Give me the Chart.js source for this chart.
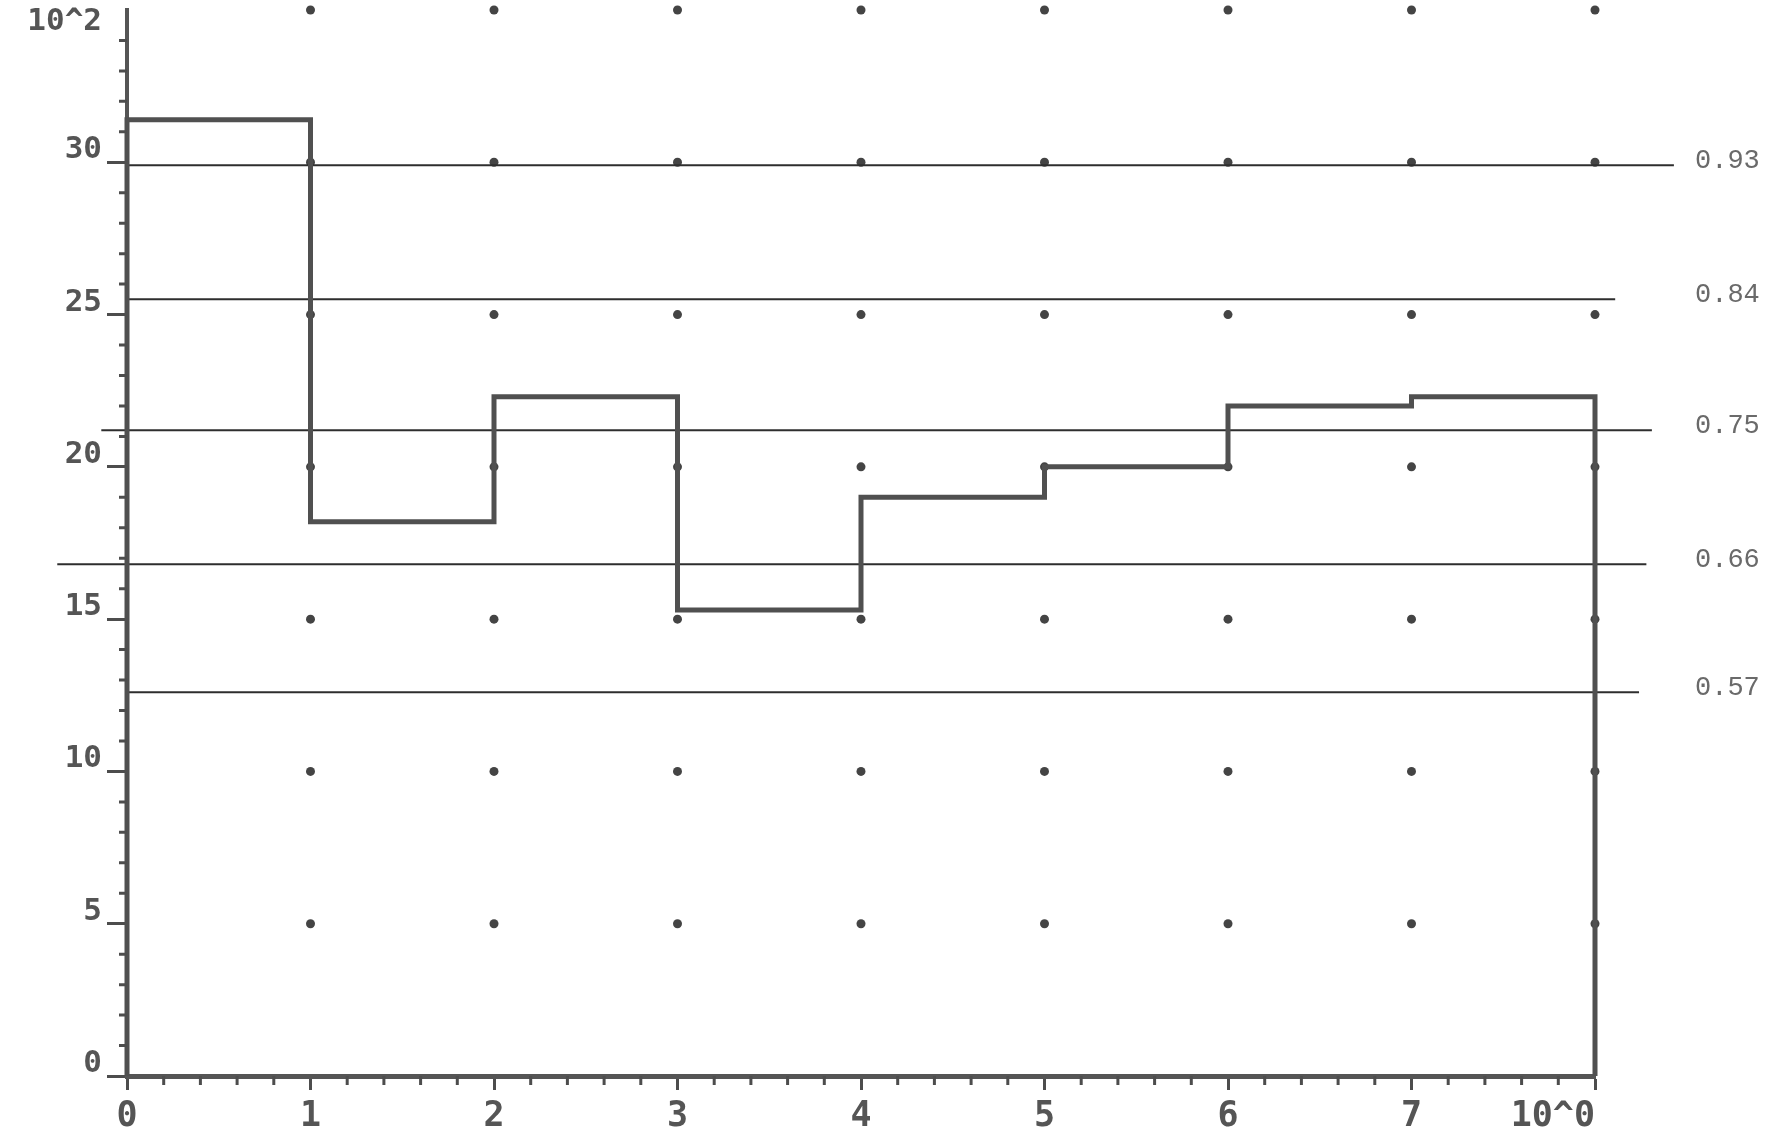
<!DOCTYPE html>
<html>
<head>
<meta charset="utf-8">
<script src="https://cdn.jsdelivr.net/npm/chart.js@4/dist/chart.umd.min.js"></script>
<style>
  html, body { margin: 0; padding: 0; background: #ffffff; }
  #c { display: block; }
</style>
</head>
<body>
<canvas id="c" width="1786" height="1144"></canvas>
<script>
// ---- data ----
const binEdges = [0, 1, 2, 3, 4, 5, 6, 7, 8];
const binValues = [31.4, 18.2, 22.3, 15.3, 19.0, 20.0, 22.0, 22.3];   // x 10^2
const xTickLabels = ['0', '1', '2', '3', '4', '5', '6', '7', '10^0'];
const yTickValues = [0, 5, 10, 15, 20, 25, 30];
const yUnitLabel = '10^2';
const refLevels = [29.9, 25.5, 21.2, 16.8, 12.6];
const refLabels = ['0.93', '0.84', '0.75', '0.66', '0.57'];
const refFrom = [0, 0, -0.14, -0.38, 0];
const refTo = [8.43, 8.11, 8.31, 8.28, 8.24];
const dotXs = [1, 2, 3, 4, 5, 6, 7, 8];
const dotYs = [5, 10, 15, 20, 25, 30, 35];

// ---- build datasets ----
const stepPoints = [{x: binEdges[0], y: 0}];
for (let i = 0; i < binValues.length; i++) stepPoints.push({x: binEdges[i], y: binValues[i]});
stepPoints.push({x: binEdges[binEdges.length - 1], y: binValues[binValues.length - 1]});
stepPoints.push({x: binEdges[binEdges.length - 1], y: 0});

const dotPoints = [];
dotXs.forEach(x => dotYs.forEach(y => dotPoints.push({x, y})));

const ink = '#4d4d4d';
const datasets = [{
  type: 'line',
  data: stepPoints,
  stepped: 'before',
  borderColor: '#505050',
  borderWidth: 5,
  pointRadius: 0,
  fill: false,
  clip: false,
  borderJoinStyle: 'miter'
}];
refLevels.forEach((lv, i) => {
  datasets.push({
    type: 'line',
    data: [{x: refFrom[i], y: lv}, {x: refTo[i], y: lv}],
    borderColor: '#2e2e2e',
    borderWidth: 2,
    pointRadius: 0,
    fill: false,
    clip: false
  });
});
datasets.push({
  type: 'scatter',
  data: dotPoints,
  pointRadius: 4.5,
  pointBackgroundColor: '#444444',
  pointBorderWidth: 0,
  clip: false
});

const labelFont = "'DejaVu Sans Mono', monospace";

const extras = {
  id: 'extras',
  afterDraw(chart) {
    const ctx = chart.ctx;
    const xs = chart.scales.x, ys = chart.scales.y;
    const x0 = xs.getPixelForValue(0), y0 = ys.getPixelForValue(0);
    ctx.save();
    ctx.strokeStyle = ink;
    ctx.lineWidth = 3;
    ctx.beginPath();
    // minor x ticks every 0.2
    for (let k = 1; k < 40; k++) {
      if (k % 5 === 0) continue;
      const px = xs.getPixelForValue(k / 5);
      ctx.moveTo(px, y0);
      ctx.lineTo(px, y0 + 9);
    }
    // minor y ticks every 1
    for (let k = 1; k < 35; k++) {
      if (k % 5 === 0) continue;
      const py = ys.getPixelForValue(k);
      ctx.moveTo(x0, py);
      ctx.lineTo(x0 - 8, py);
    }
    ctx.stroke();

    // unit label at top of y axis
    ctx.fillStyle = '#555555';
    ctx.font = "bold 31px " + labelFont;
    ctx.textAlign = 'right';
    ctx.textBaseline = 'middle';
    ctx.fillText(yUnitLabel, x0 - 25, ys.getPixelForValue(34.6));

    // right-hand labels for the reference lines
    ctx.fillStyle = '#6a6a6a';
    ctx.font = "27px 'Liberation Mono', monospace";
    ctx.textAlign = 'left';
    refLevels.forEach((lv, i) => {
      ctx.fillText(refLabels[i], chart.chartArea.right + 100, ys.getPixelForValue(lv) - 4);
    });
    ctx.restore();
  }
};

new Chart(document.getElementById('c'), {
  type: 'line',
  data: { datasets },
  options: {
    responsive: false,
    animation: false,
    events: [],
    layout: { padding: { top: 10, right: 191, bottom: 0, left: 0 } },
    plugins: { legend: { display: false }, tooltip: { enabled: false } },
    scales: {
      x: {
        type: 'linear',
        min: 0, max: 8,
        afterFit: s => { s.height = 68; s.paddingLeft = 0; s.paddingRight = 0; },
        border: { display: true, color: '#555555', width: 5 },
        grid: { drawOnChartArea: false, tickLength: 14, tickWidth: 3, tickColor: ink },
        ticks: {
          stepSize: 1,
          padding: 6,
          color: '#555555',
          font: { family: labelFont, size: 35, weight: 'bold' },
          maxRotation: 0,
          autoSkip: false,
          callback: v => {
            const i = binEdges.indexOf(v);
            if (i < 0) return '';
            return i === binEdges.length - 1 ? xTickLabels[i] + '    ' : xTickLabels[i];
          }
        }
      },
      y: {
        type: 'linear',
        min: 0, max: 35,
        afterFit: s => { s.width = 127; s.paddingTop = 0; s.paddingBottom = 0; },
        border: { display: true, color: '#555555', width: 4 },
        grid: {
          drawOnChartArea: false, tickLength: 20, tickWidth: 3,
          tickColor: c => (yTickValues.includes(c.tick && c.tick.value) ? ink : 'rgba(0,0,0,0)')
        },
        ticks: {
          stepSize: 5,
          padding: 5,
          labelOffset: -12,
          color: '#555555',
          font: { family: labelFont, size: 31, weight: 'bold' },
          callback: v => (yTickValues.includes(v) ? String(v) : '')
        }
      }
    }
  },
  plugins: [extras]
});
</script>
</body>
</html>
